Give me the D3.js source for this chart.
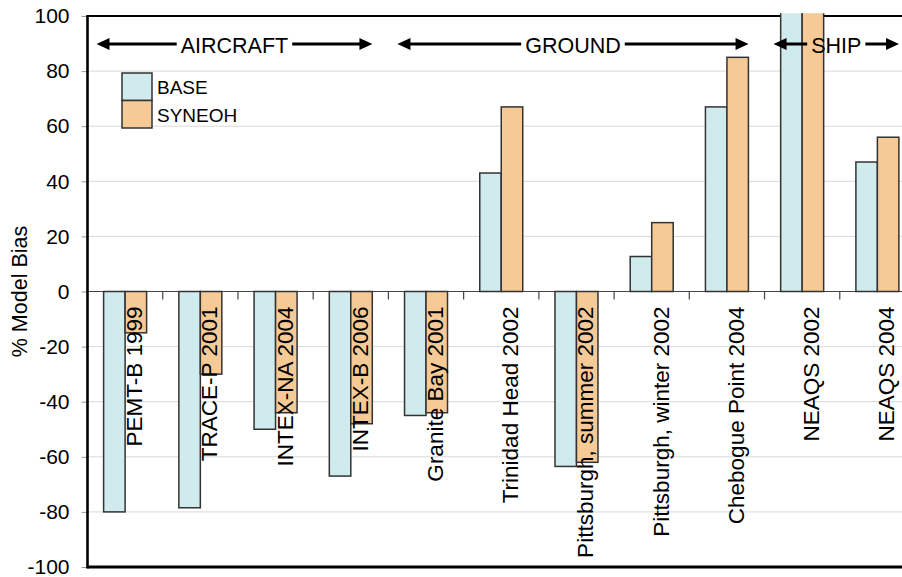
<!DOCTYPE html>
<html>
<head>
<meta charset="utf-8">
<script src="https://cdn.jsdelivr.net/npm/d3@7"></script>
<style>
  html, body { margin: 0; padding: 0; background: #fff; }
  svg { display: block; font-family: "Liberation Sans", Arial, sans-serif; }
</style>
</head>
<body>
<svg id="chart" width="902" height="577"></svg>
<script>
const categories = ["PEMT-B 1999", "TRACE-P 2001", "INTEX-NA 2004", "INTEX-B 2006",
  "Granite Bay 2001", "Trinidad Head 2002", "Pittsburgh, summer 2002",
  "Pittsburgh, winter 2002", "Chebogue Point 2004", "NEAQS 2002", "NEAQS 2004"];
const seriesNames = ["BASE", "SYNEOH"];
const baseValues = [-80, -78.5, -50, -67, -45, 43, -63.5, 12.7, 67, 130, 47];
const syneohValues = [-15, -30, -44, -48, -44, 67, -62, 25, 85, 145, 56];
const yTicks = [-100, -80, -60, -40, -20, 0, 20, 40, 60, 80, 100];
const groups = [
  { name: "AIRCRAFT", first: 0, last: 3 },
  { name: "GROUND", first: 4, last: 8 },
  { name: "SHIP", first: 9, last: 10 }
];

(function () {
const colors = { BASE: "#cfebee", SYNEOH: "#f6ca96" };
const svg = d3.select("#chart");
const pl = 87.5, pt = 16, pb = 567, pr = 915;

const x = d3.scaleBand().domain(categories).range([pl, pr]).padding(0);
const x1 = d3.scaleBand().domain(seriesNames).range([0, x.bandwidth()]).paddingInner(0).paddingOuter(0.75);
const y = d3.scaleLinear().domain([-100, 100]).range([pb, pt]);

// gridlines
svg.append("g").selectAll("line").data(yTicks.filter(t => t !== 0 && Math.abs(t) !== 100)).join("line")
  .attr("x1", pl).attr("x2", 902).attr("y1", d => y(d)).attr("y2", d => y(d))
  .attr("stroke", "#d9d9d9").attr("stroke-width", 1);

// y axis ticks & labels
const yAxis = d3.axisLeft(y).tickValues(yTicks).tickSize(6).tickPadding(12).tickFormat(d => String(d));
const gy = svg.append("g").attr("transform", `translate(${pl},0)`).call(yAxis);
gy.select(".domain").remove();
gy.selectAll(".tick line").attr("stroke", "#999");
gy.selectAll(".tick text").attr("font-size", 21).attr("fill", "#000")
  .attr("font-family", "'Liberation Sans', Arial, sans-serif");

// y title
svg.append("text").attr("transform", `translate(27,${y(0)}) rotate(-90)`)
  .attr("text-anchor", "middle").attr("font-size", 21.5).text("% Model Bias");

// frame lines top & bottom
svg.append("line").attr("x1", pl).attr("x2", 902).attr("y1", pt).attr("y2", pt)
  .attr("stroke", "#000").attr("stroke-width", 2.2);
svg.append("line").attr("x1", pl).attr("x2", 902).attr("y1", pb).attr("y2", pb)
  .attr("stroke", "#000").attr("stroke-width", 3);

// zero line and category ticks
svg.append("line").attr("x1", pl).attr("x2", 902).attr("y1", y(0)).attr("y2", y(0))
  .attr("stroke", "#444").attr("stroke-width", 1.2);
svg.append("g").selectAll("line").data(categories.slice(1)).join("line")
  .attr("x1", d => x(d)).attr("x2", d => x(d)).attr("y1", y(0)).attr("y2", y(0) + 8)
  .attr("stroke", "#444").attr("stroke-width", 1.2);

// bars
svg.append("clipPath").attr("id", "clip").append("rect")
  .attr("x", pl).attr("y", y(101)).attr("width", 902 - pl).attr("height", pb - y(101));
const rows = categories.map((c, i) => ({ cat: c, values: [
  { key: "BASE", value: baseValues[i] }, { key: "SYNEOH", value: syneohValues[i] }] }));
svg.append("g").attr("clip-path", "url(#clip)")
  .selectAll("g").data(rows).join("g").attr("transform", d => `translate(${x(d.cat)},0)`)
  .selectAll("rect").data(d => d.values).join("rect")
  .attr("x", d => x1(d.key)).attr("width", x1.bandwidth())
  .attr("y", d => y(Math.max(0, d.value))).attr("height", d => Math.abs(y(d.value) - y(0)))
  .attr("fill", d => colors[d.key]).attr("stroke", "#333").attr("stroke-width", 1.5);

// left axis line
svg.append("line").attr("x1", pl).attr("x2", pl).attr("y1", pt - 1).attr("y2", pb + 1.5)
  .attr("stroke", "#000").attr("stroke-width", 2.6);

// category labels
svg.append("g").selectAll("text").data(categories).join("text")
  .attr("transform", d => `translate(${x(d) + x.bandwidth() / 2 + 17},${y(0) + 15}) rotate(-90)`)
  .attr("text-anchor", "end").attr("font-size", 22.5).attr("fill", "#000").text(d => d);

// group arrows
const arrowY = 44;
const ag = svg.append("g");
groups.forEach(g => {
  const x0 = x(categories[g.first]) + 9;
  const xEnd = x(categories[g.last]) + x.bandwidth() - 16;
  const cx = (x0 + xEnd) / 2;
  const t = ag.append("text").attr("x", cx).attr("y", arrowY + 9).attr("text-anchor", "middle")
    .attr("font-size", 21.5).text(g.name);
  const w = t.node().getComputedTextLength();
  const gap = 4;
  ag.append("line").attr("x1", x0 + 10).attr("x2", cx - w / 2 - gap).attr("y1", arrowY).attr("y2", arrowY)
    .attr("stroke", "#000").attr("stroke-width", 3);
  ag.append("line").attr("x1", cx + w / 2 + gap).attr("x2", xEnd - 10).attr("y1", arrowY).attr("y2", arrowY)
    .attr("stroke", "#000").attr("stroke-width", 3);
  ag.append("path").attr("d", `M${x0},${arrowY} L${x0 + 13},${arrowY - 6} L${x0 + 13},${arrowY + 6} Z`).attr("fill", "#000");
  ag.append("path").attr("d", `M${xEnd},${arrowY} L${xEnd - 13},${arrowY - 6} L${xEnd - 13},${arrowY + 6} Z`).attr("fill", "#000");
});

// legend
const lg = svg.append("g").attr("transform", "translate(122,73)");
seriesNames.forEach((s, i) => {
  lg.append("rect").attr("x", 0).attr("y", i * 27.5).attr("width", 30).attr("height", 27.5)
    .attr("fill", colors[s]).attr("stroke", "#333").attr("stroke-width", 1.5);
  lg.append("text").attr("x", 35).attr("y", i * 27.5 + 21).attr("font-size", 19).text(s);
});
})();
</script>
</body>
</html>
